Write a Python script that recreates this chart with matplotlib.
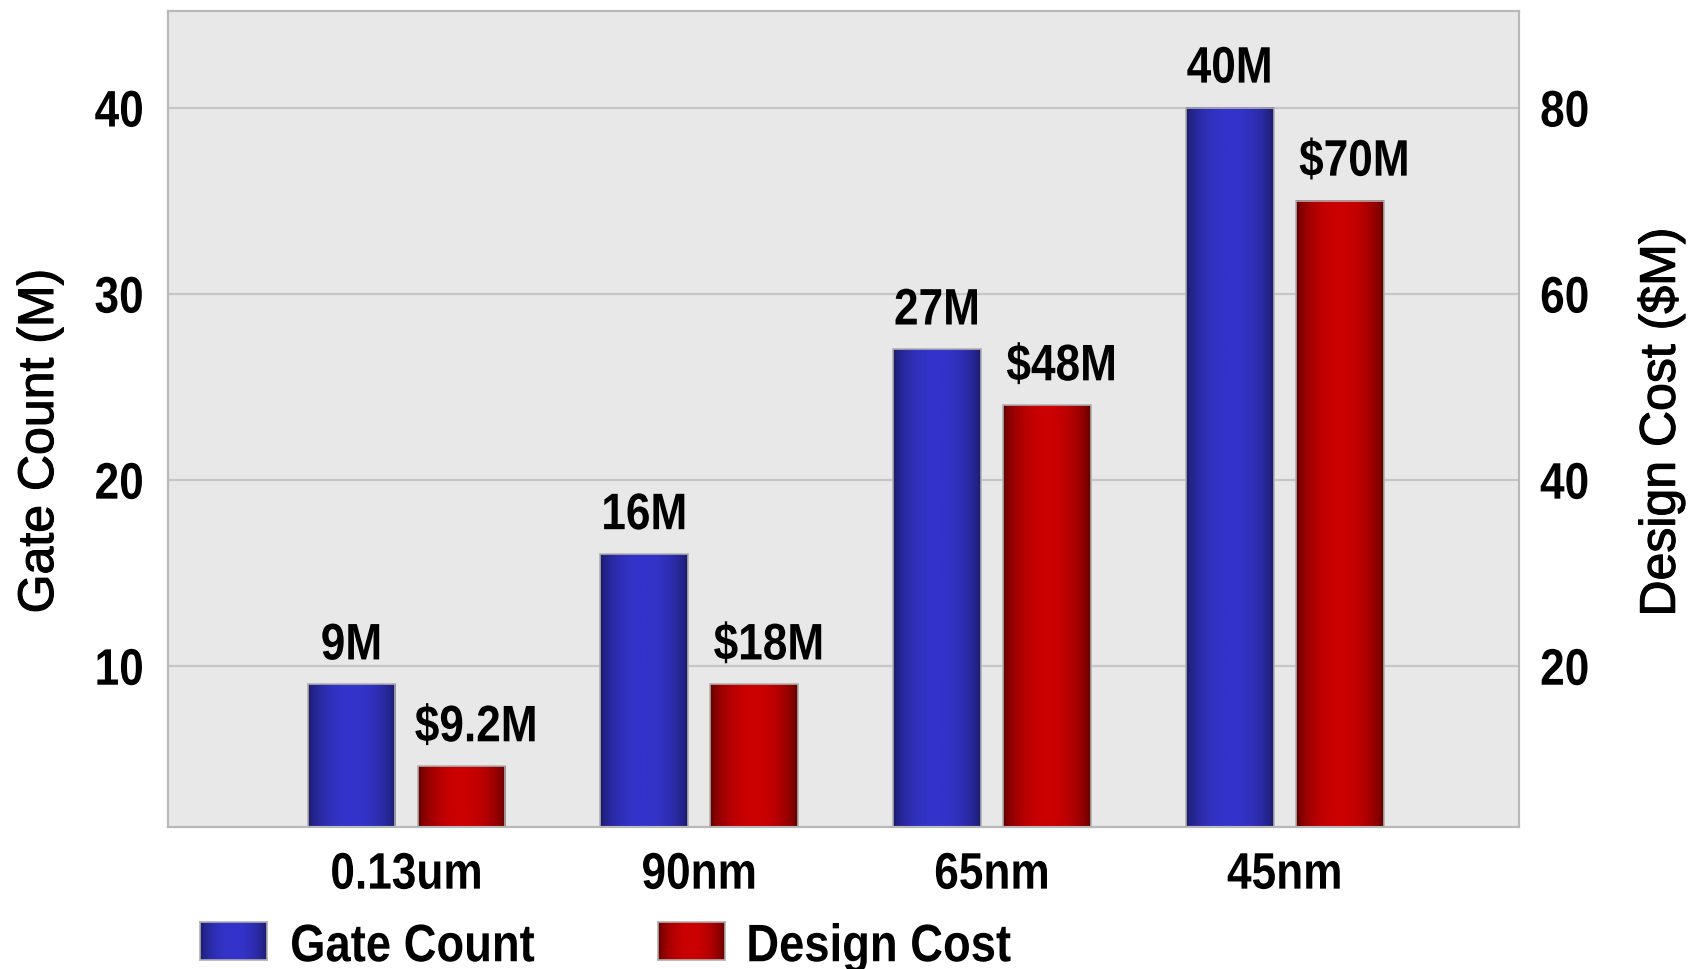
import numpy as np
import matplotlib
matplotlib.use("Agg")
import matplotlib.pyplot as plt
import matplotlib.patheffects as pe
from matplotlib.colors import LinearSegmentedColormap
from matplotlib.transforms import Affine2D

# process nodes and the two series plotted against them
nodes = ["0.13um", "90nm", "65nm", "45nm"]
gate_count = [9, 16, 27, 40]        # millions of gates
design_cost = [9.2, 18, 48, 70]     # $M
gate_labels = ["9M", "16M", "27M", "40M"]
cost_labels = ["$9.2M", "$18M", "$48M", "$70M"]
gate_ticks = [10, 20, 30, 40]
cost_ticks = [20, 40, 60, 80]

FONT = ["Liberation Sans", "DejaVu Sans"]


class Squeeze(pe.AbstractPathEffect):
    """Draw text horizontally compressed, like a narrow face."""

    def __init__(self, sx=0.85, anchor="center"):
        super().__init__()
        self.sx = sx
        self.anchor = anchor

    def draw_path(self, renderer, gc, tpath, affine, rgbFace=None):
        ext = tpath.get_extents(affine)
        cx = {"left": ext.x0, "center": 0.5 * (ext.x0 + ext.x1), "right": ext.x1}[self.anchor]
        squeeze = Affine2D().translate(-cx, 0).scale(self.sx, 1).translate(cx, 0)
        renderer.draw_path(gc, tpath, affine + squeeze, rgbFace)


def narrow(txt, anchor="center"):
    txt.set_family(FONT)
    txt.set_fontweight("bold")
    txt.set_path_effects([Squeeze(0.86, anchor)])
    return txt


blue_cmap = LinearSegmentedColormap.from_list("blue", ["#1a1a62", "#3434cc"])
red_cmap = LinearSegmentedColormap.from_list("red", ["#580000", "#cc0000"])

t = np.linspace(0, 1, 64)
shade = (np.sin(np.pi * t) ** 0.55)[None, :]


def shaded_bars(axis, xpos, values, cmap):
    bars = axis.bar(xpos, values, width=0.30, facecolor="none",
                    edgecolor="#b0b0b0", linewidth=1.2, zorder=3)
    for rect in bars:
        x0 = rect.get_x()
        axis.imshow(shade, cmap=cmap, vmin=0, vmax=1, aspect="auto",
                    interpolation="bicubic", zorder=2,
                    extent=[x0, x0 + rect.get_width(), 0, rect.get_height()])
    return bars


fig = plt.figure(figsize=(16.95, 9.69), dpi=100)
ax = fig.add_axes([0.0989, 0.1465, 0.7973, 0.8424])
ax2 = ax.twinx()

x = np.arange(len(nodes))
off = 0.188

ax.set_facecolor("#e8e8e8")
ax.set_axisbelow(True)
ax.grid(axis="y", color="#c6c6c6", linewidth=1.6)
ax.grid(axis="x", visible=False)

gbars = shaded_bars(ax, x - off, gate_count, blue_cmap)
cbars = shaded_bars(ax2, x + off, design_cost, red_cmap)

for rect, lab in zip(gbars, gate_labels):
    narrow(ax.annotate(lab, (rect.get_x() + rect.get_width() / 2, rect.get_height()),
                       xytext=(0, 10), textcoords="offset points", ha="center", va="bottom",
                       fontsize=37, zorder=5))
for rect, lab in zip(cbars, cost_labels):
    narrow(ax2.annotate(lab, (rect.get_x() + rect.get_width() / 2 + 0.05, rect.get_height()),
                        xytext=(0, 10), textcoords="offset points", ha="center", va="bottom",
                        fontsize=37, zorder=5))

ax.set_xlim(-0.816, 3.80)
ax.set_ylim(1.33, 45.2)
ax2.set_ylim(2.66, 90.4)

ax.set_xticks(x)
ax.set_xticklabels(nodes)
ax.set_yticks(gate_ticks)
ax2.set_yticks(cost_ticks)

for a in (ax, ax2):
    a.tick_params(length=0, labelsize=37)
    for sp in a.spines.values():
        sp.set_color("#b8b8b8")
        sp.set_linewidth(1.5)
for lab in ax.get_xticklabels():
    narrow(lab, "center")
for lab in ax.get_yticklabels():
    narrow(lab, "right")
for lab in ax2.get_yticklabels():
    narrow(lab, "left")
ax.tick_params(axis="y", pad=17)
ax.tick_params(axis="x", pad=17)
ax2.tick_params(axis="y", pad=15)

heavy = [pe.withStroke(linewidth=0.8, foreground="black")]
fig.text(40 / 1695, 1 - 441 / 969, "Gate Count (M)", fontsize=36, family=FONT,
         rotation=90, ha="center", va="center", path_effects=heavy)
fig.text(1661 / 1695, 1 - 422 / 969, "Design Cost ($M)", fontsize=36, family=FONT,
         rotation=90, ha="center", va="center", path_effects=heavy)

# legend along the bottom edge, swatches shaded like the bars
for (left, cmap, text, tx) in [(0.118, blue_cmap, "Gate Count", 0.171),
                               (0.388, red_cmap, "Design Cost", 0.440)]:
    sw = fig.add_axes([left, 0.009, 0.0395, 0.040])
    sw.imshow(shade, cmap=cmap, vmin=0, vmax=1, aspect="auto", interpolation="bicubic")
    sw.set_xticks([])
    sw.set_yticks([])
    for sp in sw.spines.values():
        sp.set_color("#b0b0b0")
        sp.set_linewidth(1.2)
    narrow(fig.text(tx, 0.008, text, fontsize=38, ha="left", va="baseline"), "left")

fig.savefig("out.png", dpi=100)
